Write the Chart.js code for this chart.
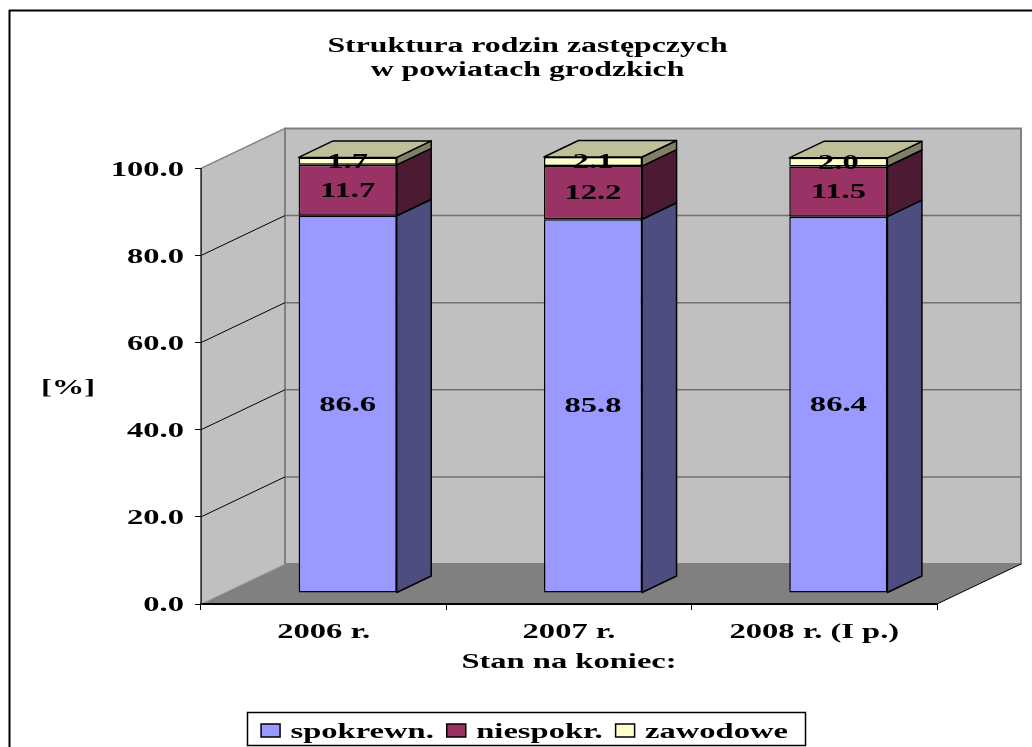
<!DOCTYPE html>
<html>
<head>
<meta charset="utf-8">
<style>
  html, body { margin: 0; padding: 0; background: #fff; }
  canvas { display: block; }
</style>
<script src="https://cdn.jsdelivr.net/npm/chart.js@4"></script>
</head>
<body>
<canvas id="chart" width="1032" height="747"></canvas>
<script>
const categories = ['2006 r.', '2007 r.', '2008 r. (I p.)'];
const spokrewn = [86.6, 85.8, 86.4];
const niespokr = [11.7, 12.2, 11.5];
const zawodowe = [1.7, 2.1, 2.0];
const yTicks = { min: 0, max: 100, step: 20 };

const FONT = 'Liberation Serif';
const STRETCH = 1.55; // the reference text is wider than the font

// sizes of the fake 3D box
const WALL = { dx: 84, dy: -40 };
const BAR_SHIFT = { dx: 24, dy: -11 };
const BAR_DEPTH = { dx: 34.5, dy: -16.5 };

const sideColors = ['#4d4d80', '#4d1a33', '#808066'];
const topColor = '#bfbf99';

const canvas = document.getElementById('chart');
const ctx2d = canvas.getContext('2d');

// stretch all text horizontally, chart.js measures through the same patch
const rawFill = ctx2d.fillText.bind(ctx2d);
const rawMeasure = ctx2d.measureText.bind(ctx2d);
ctx2d.fillText = function (text, x, y) {
  ctx2d.save();
  ctx2d.translate(x, ctx2d.textBaseline === 'middle' ? y + 2 : y);
  ctx2d.scale(STRETCH, 1);
  rawFill(text, 0, 0);
  ctx2d.restore();
};
ctx2d.measureText = function (text) {
  return { width: rawMeasure(text).width * STRETCH };
};

function poly(ctx, pts, fill, stroke, lw) {
  ctx.beginPath();
  pts.forEach((p, i) => (i ? ctx.lineTo(p[0], p[1]) : ctx.moveTo(p[0], p[1])));
  ctx.closePath();
  if (fill) { ctx.fillStyle = fill; ctx.fill(); }
  if (stroke) { ctx.strokeStyle = stroke; ctx.lineWidth = lw || 1; ctx.stroke(); }
}

function line(ctx, x1, y1, x2, y2, color, lw) {
  ctx.beginPath();
  ctx.moveTo(x1, y1);
  ctx.lineTo(x2, y2);
  ctx.strokeStyle = color;
  ctx.lineWidth = lw;
  ctx.stroke();
}

const box3d = {
  id: 'box3d',
  afterLayout(chart) {
    // title and legend are not centred on the canvas in the reference
    chart.titleBlock.left += 59;
    chart.titleBlock.right += 59;
    const lg = chart.legend;
    lg.left += 56;
    lg.right += 56;
    const h = lg.bottom - lg.top;
    lg.top = 707;
    lg.bottom = 707 + h;
  },
  beforeDraw(chart) {
    const ctx = chart.ctx;
    const a = chart.chartArea;
    const y = chart.scales.y;
    const d = WALL;
    ctx.save();

    // outer frame
    line(ctx, 9.5, 10, 9.5, 747, '#000', 2);
    line(ctx, 9, 10.5, 1032, 10.5, '#000', 2);

    // walls and floor
    poly(ctx, [[a.left, a.top], [a.left + d.dx, a.top + d.dy], [a.left + d.dx, a.bottom + d.dy], [a.left, a.bottom]], '#c0c0c0');
    poly(ctx, [[a.left + d.dx, a.top + d.dy], [a.right + d.dx, a.top + d.dy], [a.right + d.dx, a.bottom + d.dy], [a.left + d.dx, a.bottom + d.dy]], '#c0c0c0', '#808080', 2);
    poly(ctx, [[a.left, a.bottom], [a.left + d.dx, a.bottom + d.dy], [a.right + d.dx, a.bottom + d.dy], [a.right, a.bottom]], '#808080');

    // grid lines
    for (let v = yTicks.min + yTicks.step; v < yTicks.max; v += yTicks.step) {
      const py = y.getPixelForValue(v);
      line(ctx, a.left, py, a.left + d.dx, py + d.dy, '#000', 1);
      line(ctx, a.left + d.dx, py + d.dy, a.right + d.dx, py + d.dy, '#707070', 1.5);
    }
    line(ctx, a.left, a.top, a.left + d.dx, a.top + d.dy, '#808080', 1.5);
    line(ctx, a.left, a.bottom, a.left + d.dx, a.bottom + d.dy, '#a0a0a0', 1);
    line(ctx, a.right, a.bottom, a.right + d.dx, a.bottom + d.dy, '#000', 1);
    line(ctx, a.left, a.top, a.left, a.bottom, '#333', 1.5);
    ctx.restore();
  },
  beforeDatasetDraw(chart) {
    chart.ctx.save();
    chart.ctx.translate(BAR_SHIFT.dx, BAR_SHIFT.dy);
  },
  afterDatasetDraw(chart) {
    chart.ctx.restore();
  },
  afterDatasetsDraw(chart) {
    const ctx = chart.ctx;
    const dx = BAR_DEPTH.dx, dy = BAR_DEPTH.dy;
    ctx.save();
    ctx.translate(BAR_SHIFT.dx, BAR_SHIFT.dy);
    ctx.lineJoin = 'round';
    chart.data.datasets.forEach((ds, di) => {
      chart.getDatasetMeta(di).data.forEach(bar => {
        const p = bar.getProps(['x', 'y', 'base', 'width'], true);
        const r = p.x + p.width / 2, l = p.x - p.width / 2;
        poly(ctx, [[r, p.y], [r + dx, p.y + dy], [r + dx, p.base + dy], [r, p.base]], sideColors[di], '#000', 1.5);
        if (di === chart.data.datasets.length - 1) {
          poly(ctx, [[l, p.y], [l + dx, p.y + dy], [r + dx, p.y + dy], [r, p.y]], topColor, '#000', 1.5);
        }
      });
    });
    // value labels
    ctx.fillStyle = '#000';
    ctx.font = 'bold 21px "' + FONT + '"';
    ctx.textAlign = 'center';
    ctx.textBaseline = 'middle';
    chart.data.datasets.forEach((ds, di) => {
      chart.getDatasetMeta(di).data.forEach((bar, i) => {
        const p = bar.getProps(['x', 'y', 'base'], true);
        ctx.fillText(ds.data[i].toFixed(1), p.x, (p.y + p.base) / 2 - 1);
      });
    });
    ctx.restore();
  },
  afterDraw(chart) {
    const ctx = chart.ctx;
    ctx.save();
    // y axis title stays horizontal
    ctx.fillStyle = '#000';
    ctx.font = 'bold 21px "' + FONT + '"';
    ctx.textAlign = 'center';
    ctx.textBaseline = 'middle';
    ctx.fillText('[%]', 68, 387);
    // legend frame
    ctx.strokeStyle = '#000';
    ctx.lineWidth = 1.5;
    ctx.strokeRect(247.5, 712.5, 558, 33);
    ctx.restore();
  }
};

const barStyle = { borderColor: '#000', borderWidth: 1.5, borderSkipped: false, barPercentage: 1, categoryPercentage: 0.4, clip: false };

new Chart(ctx2d, {
  type: 'bar',
  data: {
    labels: categories,
    datasets: [
      { label: 'spokrewn.', data: spokrewn, backgroundColor: '#9999ff', ...barStyle },
      { label: 'niespokr.', data: niespokr, backgroundColor: '#993366', ...barStyle },
      { label: 'zawodowe', data: zawodowe, backgroundColor: '#ffffcc', ...barStyle }
    ]
  },
  plugins: [box3d],
  options: {
    responsive: false,
    animation: false,
    devicePixelRatio: 1,
    layout: { padding: { left: 0, right: 95, top: 0, bottom: 0 } },
    font: { family: FONT },
    plugins: {
      tooltip: { enabled: false },
      title: {
        display: true,
        text: ['Struktura rodzin zastępczych', 'w powiatach grodzkich'],
        color: '#000',
        font: { family: FONT, size: 20.5, weight: 'bold', lineHeight: 1.2 },
        padding: { top: 32, bottom: 87.2 }
      },
      legend: {
        position: 'bottom',
        labels: {
          color: '#000',
          font: { family: FONT, size: 21, weight: 'bold' },
          boxWidth: 19,
          boxHeight: 13,
          padding: 13
        }
      }
    },
    scales: {
      x: {
        stacked: true,
        afterFit: s => { s.height = 99; },
        grid: { drawOnChartArea: false, tickLength: 6, color: '#000' },
        border: { color: '#000', width: 2 },
        ticks: { color: '#000', padding: 8, maxRotation: 0, font: { family: FONT, size: 21, weight: 'bold' } },
        title: {
          display: true,
          text: 'Stan na koniec:',
          color: '#000',
          font: { family: FONT, size: 21, weight: 'bold', lineHeight: 1.2 },
          padding: { top: 0, bottom: 30 }
        }
      },
      y: {
        stacked: true,
        min: yTicks.min,
        max: yTicks.max,
        afterFit: s => { s.width = 201; },
        grid: { drawOnChartArea: false, tickLength: 6, color: '#000' },
        border: { color: '#333', width: 1 },
        ticks: {
          stepSize: yTicks.step,
          color: '#000',
          padding: 11,
          font: { family: FONT, size: 21, weight: 'bold' },
          callback: v => v.toFixed(1)
        }
      }
    }
  }
});
</script>
</body>
</html>
